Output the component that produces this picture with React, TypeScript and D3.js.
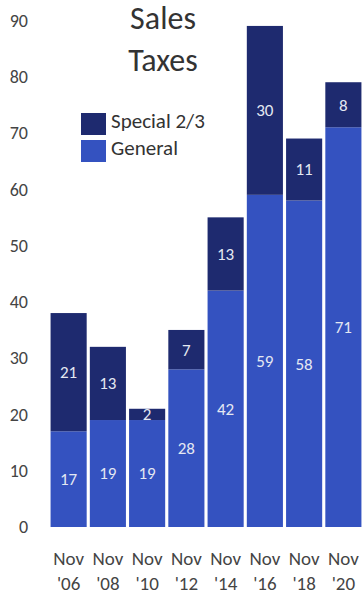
import React from "react";
import * as d3 from "d3";

// Sales tax measures on the ballot, by election
const elections = ["Nov\n'06", "Nov\n'08", "Nov\n'10", "Nov\n'12", "Nov\n'14", "Nov\n'16", "Nov\n'18", "Nov\n'20"];
const general = [17, 19, 19, 28, 42, 59, 58, 71];
const special = [21, 13, 2, 7, 13, 30, 11, 8];
const yTicks = [0, 10, 20, 30, 40, 50, 60, 70, 80, 90];
const titleLines = ["Sales", "Taxes"];
const legendItems = [
  { key: "special", label: "Special 2/3" },
  { key: "general", label: "General" },
];

const W = 362;
const H = 595;
const FONT = "Carlito, Calibri, Lato, 'Open Sans', sans-serif";
const DARK = "#1e2a6f";
const BLUE = "#3452c0";
const LABEL = "#e4e8f2";
const AXIS_TEXT = "#444";

export default function App() {
  const x = d3
    .scaleBand<string>()
    .domain(elections)
    .range([49, 363])
    .paddingInner(0.08)
    .paddingOuter(0.04);
  const y = d3.scaleLinear().domain([0, 90]).range([527, 20.3]);

  const rows = elections.map((e, i) => ({ e, general: general[i], special: special[i] }));
  const stack = d3.stack<any>().keys(["general", "special"])(rows);
  const fill: Record<string, string> = { general: BLUE, special: DARK };

  return (
    <svg
      width={W}
      height={H}
      style={{ position: "absolute", left: 0, top: 0, background: "#fff" }}
      fontFamily={FONT}
    >
      {/* y axis tick labels */}
      {yTicks.map((t) => (
        <text
          key={t}
          x={28}
          y={y(t)}
          dy="0.35em"
          textAnchor="end"
          fontSize={18}
          fill={AXIS_TEXT}
        >
          {t}
        </text>
      ))}

      {/* stacked bars */}
      {stack.map((layer) => (
        <g key={layer.key} fill={fill[layer.key]}>
          {layer.map((d, i) => (
            <rect
              key={i}
              x={x(elections[i])!}
              y={y(d[1])}
              width={x.bandwidth()}
              height={y(d[0]) - y(d[1])}
            />
          ))}
        </g>
      ))}

      {/* segment value labels */}
      {stack.map((layer) =>
        layer.map((d, i) => {
          const v = d[1] - d[0];
          return (
            <text
              key={layer.key + i}
              x={x(elections[i])! + x.bandwidth() / 2}
              y={y((d[0] + d[1]) / 2)}
              dy="0.35em"
              textAnchor="middle"
              fontSize={17}
              fill={LABEL}
            >
              {v}
            </text>
          );
        })
      )}

      {/* category labels */}
      {elections.map((e) => {
        const [a, b] = e.split("\n");
        const cx = x(e)! + x.bandwidth() / 2;
        return (
          <text key={e} x={cx} textAnchor="middle" fontSize={19} fill={AXIS_TEXT}>
            <tspan x={cx} y={565}>{a}</tspan>
            <tspan x={cx} y={590}>{b}</tspan>
          </text>
        );
      })}

      {/* title */}
      {titleLines.map((t, i) => (
        <text key={t} x={163} y={29 + i * 42} textAnchor="middle" fontSize={32} fill="#333">
          {t}
        </text>
      ))}

      {/* legend */}
      {legendItems.map((it, i) => (
        <g key={it.key} transform={`translate(81, ${113 + i * 27})`}>
          <rect width={25} height={22} fill={fill[it.key]} />
          <text x={30} y={15} fontSize={21} fill="#333">
            {it.label}
          </text>
        </g>
      ))}
    </svg>
  );
}
